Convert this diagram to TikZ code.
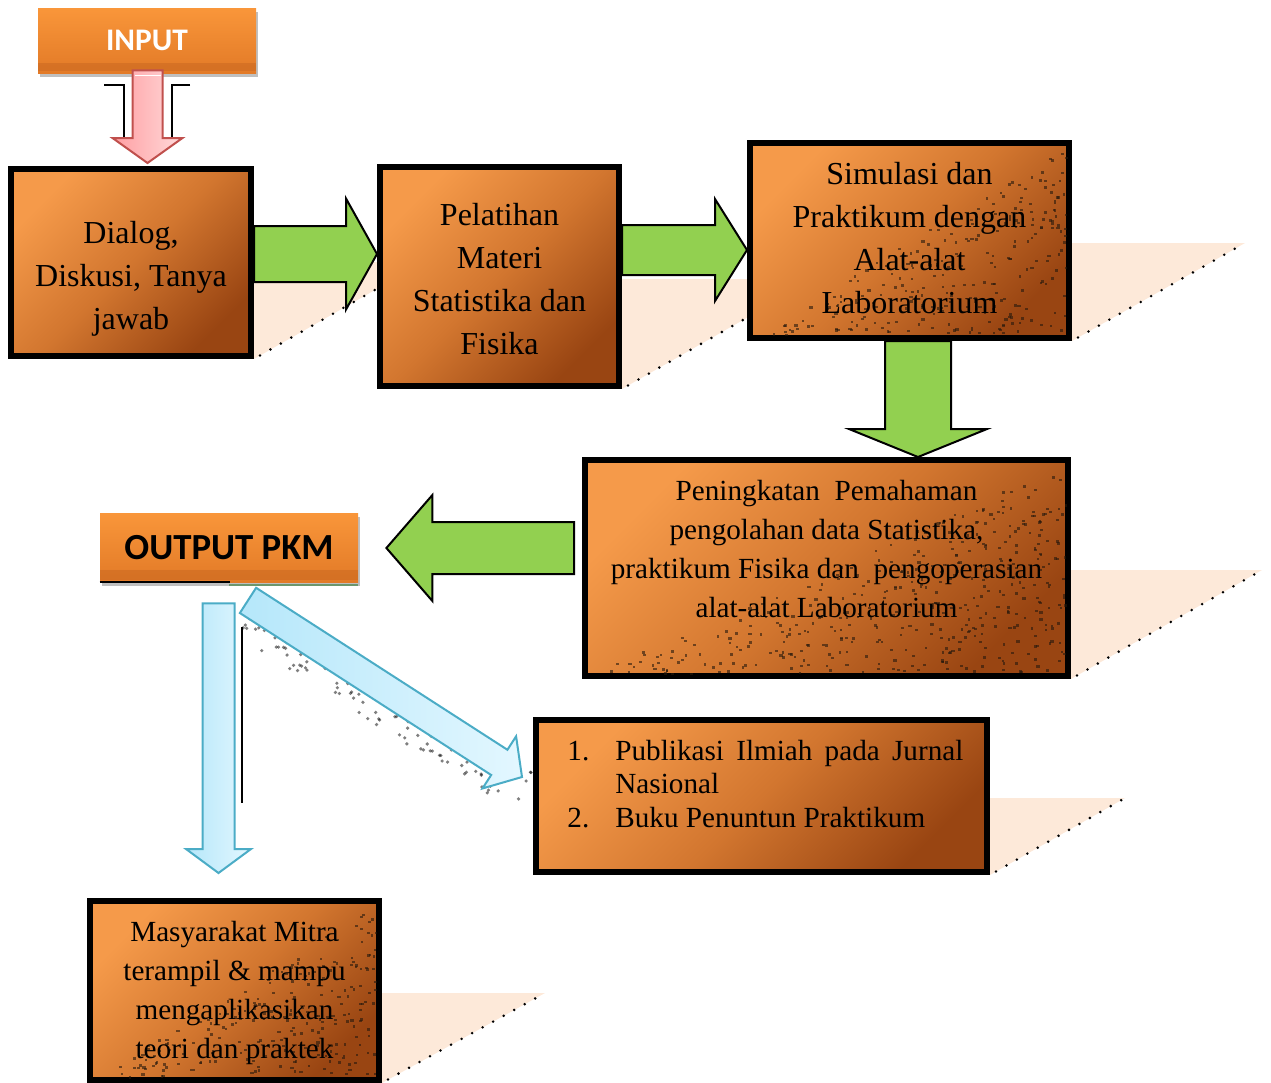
\documentclass[tikz,border=0pt]{standalone}
\usepackage{fontspec}
\setmainfont{Liberation Serif}
\newfontfamily\calib{Carlito}
\usetikzlibrary{calc,shadows}
\definecolor{boxL}{HTML}{F59A4A}
\definecolor{boxM}{HTML}{D2762F}
\definecolor{boxD}{HTML}{994512}
\definecolor{arrGreen}{HTML}{92D050}
\definecolor{peach}{HTML}{FDE9D9}
\definecolor{btnTop}{HTML}{F9963A}
\definecolor{btnBot}{HTML}{E27A27}
\definecolor{btnBand}{HTML}{CC6A22}
\definecolor{pinkL}{HTML}{FF9EA2}
\definecolor{pinkR}{HTML}{FFDADA}
\definecolor{pinkE}{HTML}{C0504D}
\definecolor{blueL}{HTML}{B5E7FA}
\definecolor{blueR}{HTML}{E3F7FF}
\definecolor{blueE}{HTML}{4BACC6}
\pgfdeclarelayer{bg}
\pgfsetlayers{bg,main}
% block arrow: #1 style, #2 start, #3 tip, #4 shaft half width, #5 head half width, #6 head length
\newcommand{\fatarrow}[6][]{%
  \coordinate (fahb) at ($(#3)!#6!(#2)$);
  \draw[#1] ($(#2)!#4!90:(#3)$) -- ($(fahb)!#4!90:(#3)$) -- ($(fahb)!#5!90:(#3)$) -- (#3)
    -- ($(fahb)!#5!-90:(#3)$) -- ($(fahb)!#4!-90:(#3)$) -- ($(#2)!#4!-90:(#3)$) -- cycle;
}
% perspective shadow: #1 node, #2 height (pt), #3 width (pt)
\newcommand{\pshadow}[3]{%
  \fill[peach] (#1.south east) -- ++(0pt,#2) -- ++(#3,0pt) -- cycle;
  \draw[dotline] ($(#1.south east)+(3pt,1.8pt)$) -- ($(#1.south east)+(#3,#2)$);
}
% speckles in lower-right triangle of a region (px): #1 xl, #2 yt, #3 xr, #4 yb, #5 count
\newcommand{\speckle}[5]{%
  \foreach \k in {1,...,#5}{%
    \pgfmathsetmacro\ua{rnd}%
    \pgfmathsetmacro\va{rnd}%
    \pgfmathsetmacro\uu{(\ua+\va>1) ? 1-\ua : \ua}%
    \pgfmathsetmacro\vv{(\ua+\va>1) ? 1-\va : \va}%
    \pgfmathsetmacro\ww{2+1.5*rnd}%
    \fill[speck] ({#3-\uu*(#3-#1)},{#4-\vv*(#4-#2)}) rectangle ++(\ww,2.4);
  }}
\begin{document}
\begin{tikzpicture}[x=0.5pt,y=-0.5pt,
  box/.style={draw=black, line width=3pt, top color=boxL, bottom color=boxD, middle color=boxM, shading angle=45, inner sep=0pt},
  txtA/.style={font=\fontsize{16pt}{21.5pt}\selectfont, align=center, inner sep=0pt},
  txtB/.style={font=\fontsize{14.6pt}{19.5pt}\selectfont, align=center, inner sep=0pt},
  btn/.style={top color=btnTop, bottom color=btnBot, inner sep=0pt, drop shadow={shadow xshift=1pt, shadow yshift=-2pt, fill=black, opacity=.25}},
  greenarr/.style={fill=arrGreen, draw=black, line width=1pt, line join=miter},
  pinkarr/.style={left color=pinkL, right color=pinkR, draw=pinkE, line width=1pt},
  bluearr/.style={left color=blueL, right color=blueR, draw=blueE, line width=1pt},
  dotline/.style={line width=1.4pt, line cap=round, dash pattern=on 0pt off 6pt, black},
  speck/.style={fill=black!80!brown, opacity=.6},
  bracket/.style={line width=1.3pt, black}
]
\useasboundingbox (0,0) rectangle (1271,1083);
\pgfmathsetseed{12}

% ---------- top buttons ----------
\node[btn, minimum width=109pt, minimum height=32.5pt, text=white,
      font=\calib\bfseries\fontsize{15.7pt}{18pt}\selectfont] (input) at (147,40.5) {INPUT};
\fill[btnBand, opacity=.6] ($(input.south west)+(0,1.2pt)$) rectangle ($(input.south east)+(0,5pt)$);

% ---------- main boxes ----------
\node[box, minimum width=120pt,   minimum height=93.5pt]  (dialog)      at (131,262.5) {};
\node[box, minimum width=119.5pt, minimum height=109.5pt] (pelatihan)   at (499.5,276.5) {};
\node[box, minimum width=159.5pt, minimum height=97.5pt]  (simulasi)    at (909.5,240.5) {};
\node[box, minimum width=241.5pt, minimum height=108pt]   (peningkatan) at (826.5,568) {};
\node[box, minimum width=225.5pt, minimum height=76pt]    (publikasi)   at (761.5,796) {};
\node[box, minimum width=144.5pt, minimum height=89.5pt]  (masyarakat)  at (234.5,990.5) {};

\node[btn, minimum width=129pt, minimum height=34.5pt, text=black,
      font=\calib\bfseries\fontsize{18.4pt}{22pt}\selectfont] (outputpkm) at (229,547.5) {OUTPUT PKM};
\fill[btnBand, opacity=.6] ($(outputpkm.south west)+(0,1.2pt)$) rectangle ($(outputpkm.south east)+(0,6pt)$);
\draw[line width=1pt] (outputpkm.south west) -- ($(outputpkm.south west)+(65pt,0)$);
\draw[line width=1pt, draw=gray!60!green!70!black, opacity=.6] ($(outputpkm.south)+(0,-1.5pt)$) -- ($(outputpkm.south east)+(0,-1.5pt)$);

% ---------- perspective shadows ----------
\begin{pgfonlayer}{bg}
  \pshadow{dialog}{48.5pt}{85pt}
  \pshadow{pelatihan}{55pt}{96.5pt}
  \pshadow{simulasi}{49pt}{86.5pt}
  \pshadow{peningkatan}{54.5pt}{95.5pt}
  \pshadow{publikasi}{38.5pt}{67.5pt}
  \pshadow{masyarakat}{45pt}{81.5pt}
\end{pgfonlayer}

% ---------- speckles ----------
\speckle{753}{146}{1066}{335}{260}
\speckle{588}{463}{1065}{673}{420}
\speckle{93}{904}{376}{1077}{230}

% ---------- texts ----------
\node[txtA] (dialogT)    at ($(dialog.center)+(0,-8pt)$) {Dialog,\\Diskusi, Tanya\\jawab};
\node[txtA] (pelatihanT) at ($(pelatihan.center)+(0,-1.5pt)$) {Pelatihan\\Materi\\Statistika dan\\Fisika};
\node[txtA] (simulasiT)  at ($(simulasi.center)+(0,1pt)$) {Simulasi dan\\Praktikum dengan\\Alat-alat\\Laboratorium};
\node[txtB] (peningkatanT) at ($(peningkatan.center)+(0,9.25pt)$) {Peningkatan~ Pemahaman\\pengolahan data Statistika,\\praktikum Fisika dan~ pengoperasian\\alat-alat Laboratorium};
\node[txtB] (masyarakatT) at ($(masyarakat.center)+(0,-1pt)$) {Masyarakat Mitra\\terampil \& mampu\\mengaplikasikan\\teori dan praktek};
\node[anchor=base west, inner sep=0pt, font=\fontsize{14.6pt}{16.75pt}\selectfont] (publikasiT)
  at ($(publikasi.north west)+(17pt,-21.5pt)$)
  {\begin{tabular}[t]{@{}p{24pt}@{}l@{}}
   1. & \makebox[174pt][s]{Publikasi Ilmiah pada Jurnal}\\
      & Nasional\\
   2. & Buku Penuntun Praktikum
   \end{tabular}};

% ---------- green arrows ----------
\coordinate (a1s) at (dialog.east |- 0,254);
\coordinate (a1t) at (pelatihan.west |- 0,254);
\fatarrow[greenarr]{a1s}{a1t}{14pt}{27.75pt}{15.5pt}
\coordinate (a2s) at (pelatihan.east |- 0,250);
\coordinate (a2t) at (simulasi.west |- 0,250);
\fatarrow[greenarr]{a2s}{a2t}{12.5pt}{25.5pt}{16pt}
\coordinate (a3s) at (918,0 |- simulasi.south);
\coordinate (a3t) at (918,0 |- peningkatan.north);
\fatarrow[greenarr]{a3s}{a3t}{16.5pt}{34.5pt}{14pt}
\coordinate (a4s) at ($(peningkatan.west |- 0,548)+(-4pt,0)$);
\coordinate (a4t) at ($(outputpkm.east |- 0,548)+(14pt,0)$);
\fatarrow[greenarr]{a4s}{a4t}{13pt}{26.5pt}{23pt}

% ---------- pink arrow ----------
\draw[bracket] (104,85) -- (124,85) -- (124,137);
\draw[bracket] (190,85) -- (172,85) -- (172,137);
\coordinate (p1s) at ($(input.south)+(0.25pt,1.5pt)$);
\coordinate (p1t) at ($(dialog.north)+(8.25pt,1.5pt)$);
\fatarrow[pinkarr]{p1s}{p1t}{7.5pt}{17.5pt}{12.5pt}
\draw[white, line width=0.8pt] ($(p1s)+(-6.5pt,-2.5pt)$) -- ($(p1s)+(6.5pt,-2.5pt)$);

% ---------- blue arrows ----------
\foreach \k in {1,...,170}{%
  \pgfmathsetmacro\ta{rnd}%
  \pgfmathsetmacro\sa{(rnd-0.5)*50}%
  \fill[black, opacity=.5] ({245+\ta*280+0.55*\sa},{612+\ta*180-0.84*\sa}) circle (0.9pt);
}
\draw[line width=1.2pt] (242,627) -- (242,803);
\coordinate (b1s) at ($(outputpkm.south)+(-5.25pt,-10.5pt)$);
\coordinate (b1t) at ($(masyarakat.north)+(-8pt,12.5pt)$);
\fatarrow[bluearr]{b1s}{b1t}{8pt}{16.25pt}{12pt}
\coordinate (b2s) at ($(outputpkm.south)+(9.5pt,-9pt)$);
\coordinate (b2t) at ($(publikasi.west)+(-5.5pt,9.5pt)$);
\fatarrow[bluearr]{b2s}{b2t}{7.5pt}{15.5pt}{13.5pt}
\end{tikzpicture}
\end{document}
